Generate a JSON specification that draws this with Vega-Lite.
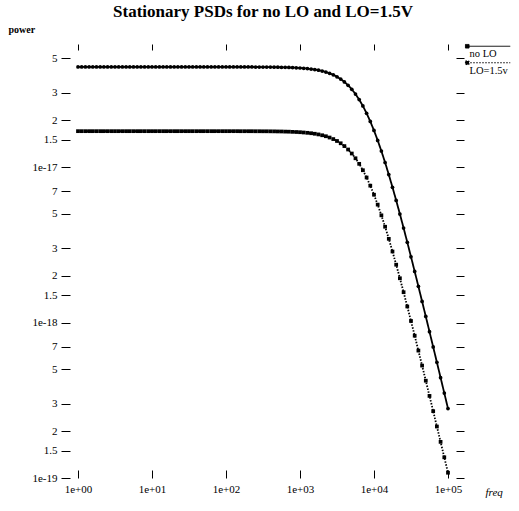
{
  "$schema": "https://vega.github.io/schema/vega-lite/v6.json",
  "width": 386,
  "height": 428,
  "autosize": {"type": "none"},
  "padding": {"left": 70, "top": 50, "right": 63, "bottom": 33},
  "background": "white",
  "title": {
    "text": "Stationary PSDs for no LO and LO=1.5V",
    "font": "Liberation Serif",
    "fontSize": 17,
    "fontWeight": "bold",
    "color": "black",
    "anchor": "middle",
    "baseline": "alphabetic",
    "offset": -10
  },
  "config": {
    "view": {"stroke": null},
    "axis": {
      "domain": false,
      "grid": false,
      "tickColor": "black",
      "tickWidth": 1,
      "labelColor": "black",
      "labelFont": "Liberation Serif",
      "labelFontSize": 11,
      "titleColor": "black",
      "titleFont": "Liberation Serif"
    },
    "legend": {
      "labelFont": "Liberation Serif",
      "labelFontSize": 10.5,
      "labelColor": "black"
    }
  },
  "data": {
    "values": [
      {"freq": 1, "power": 4.4e-17, "series": "no LO"},
      {"freq": 1.122, "power": 4.4e-17, "series": "no LO"},
      {"freq": 1.259, "power": 4.4e-17, "series": "no LO"},
      {"freq": 1.413, "power": 4.4e-17, "series": "no LO"},
      {"freq": 1.585, "power": 4.4e-17, "series": "no LO"},
      {"freq": 1.778, "power": 4.4e-17, "series": "no LO"},
      {"freq": 1.995, "power": 4.4e-17, "series": "no LO"},
      {"freq": 2.239, "power": 4.4e-17, "series": "no LO"},
      {"freq": 2.512, "power": 4.4e-17, "series": "no LO"},
      {"freq": 2.818, "power": 4.4e-17, "series": "no LO"},
      {"freq": 3.162, "power": 4.4e-17, "series": "no LO"},
      {"freq": 3.548, "power": 4.4e-17, "series": "no LO"},
      {"freq": 3.981, "power": 4.4e-17, "series": "no LO"},
      {"freq": 4.467, "power": 4.4e-17, "series": "no LO"},
      {"freq": 5.012, "power": 4.4e-17, "series": "no LO"},
      {"freq": 5.623, "power": 4.4e-17, "series": "no LO"},
      {"freq": 6.31, "power": 4.4e-17, "series": "no LO"},
      {"freq": 7.079, "power": 4.4e-17, "series": "no LO"},
      {"freq": 7.943, "power": 4.4e-17, "series": "no LO"},
      {"freq": 8.913, "power": 4.4e-17, "series": "no LO"},
      {"freq": 10, "power": 4.4e-17, "series": "no LO"},
      {"freq": 11.22, "power": 4.4e-17, "series": "no LO"},
      {"freq": 12.59, "power": 4.4e-17, "series": "no LO"},
      {"freq": 14.13, "power": 4.4e-17, "series": "no LO"},
      {"freq": 15.85, "power": 4.4e-17, "series": "no LO"},
      {"freq": 17.78, "power": 4.4e-17, "series": "no LO"},
      {"freq": 19.95, "power": 4.4e-17, "series": "no LO"},
      {"freq": 22.39, "power": 4.4e-17, "series": "no LO"},
      {"freq": 25.12, "power": 4.4e-17, "series": "no LO"},
      {"freq": 28.18, "power": 4.4e-17, "series": "no LO"},
      {"freq": 31.62, "power": 4.4e-17, "series": "no LO"},
      {"freq": 35.48, "power": 4.4e-17, "series": "no LO"},
      {"freq": 39.81, "power": 4.4e-17, "series": "no LO"},
      {"freq": 44.67, "power": 4.4e-17, "series": "no LO"},
      {"freq": 50.12, "power": 4.4e-17, "series": "no LO"},
      {"freq": 56.23, "power": 4.4e-17, "series": "no LO"},
      {"freq": 63.1, "power": 4.4e-17, "series": "no LO"},
      {"freq": 70.79, "power": 4.4e-17, "series": "no LO"},
      {"freq": 79.43, "power": 4.4e-17, "series": "no LO"},
      {"freq": 89.13, "power": 4.4e-17, "series": "no LO"},
      {"freq": 100, "power": 4.399e-17, "series": "no LO"},
      {"freq": 112.2, "power": 4.399e-17, "series": "no LO"},
      {"freq": 125.9, "power": 4.399e-17, "series": "no LO"},
      {"freq": 141.3, "power": 4.399e-17, "series": "no LO"},
      {"freq": 158.5, "power": 4.398e-17, "series": "no LO"},
      {"freq": 177.8, "power": 4.398e-17, "series": "no LO"},
      {"freq": 199.5, "power": 4.397e-17, "series": "no LO"},
      {"freq": 223.9, "power": 4.397e-17, "series": "no LO"},
      {"freq": 251.2, "power": 4.396e-17, "series": "no LO"},
      {"freq": 281.8, "power": 4.395e-17, "series": "no LO"},
      {"freq": 316.2, "power": 4.393e-17, "series": "no LO"},
      {"freq": 354.8, "power": 4.391e-17, "series": "no LO"},
      {"freq": 398.1, "power": 4.389e-17, "series": "no LO"},
      {"freq": 446.7, "power": 4.386e-17, "series": "no LO"},
      {"freq": 501.2, "power": 4.383e-17, "series": "no LO"},
      {"freq": 562.3, "power": 4.378e-17, "series": "no LO"},
      {"freq": 631, "power": 4.373e-17, "series": "no LO"},
      {"freq": 707.9, "power": 4.366e-17, "series": "no LO"},
      {"freq": 794.3, "power": 4.357e-17, "series": "no LO"},
      {"freq": 891.3, "power": 4.346e-17, "series": "no LO"},
      {"freq": 1000, "power": 4.332e-17, "series": "no LO"},
      {"freq": 1122, "power": 4.315e-17, "series": "no LO"},
      {"freq": 1259, "power": 4.294e-17, "series": "no LO"},
      {"freq": 1413, "power": 4.267e-17, "series": "no LO"},
      {"freq": 1585, "power": 4.234e-17, "series": "no LO"},
      {"freq": 1778, "power": 4.193e-17, "series": "no LO"},
      {"freq": 1995, "power": 4.142e-17, "series": "no LO"},
      {"freq": 2239, "power": 4.08e-17, "series": "no LO"},
      {"freq": 2512, "power": 4.005e-17, "series": "no LO"},
      {"freq": 2818, "power": 3.914e-17, "series": "no LO"},
      {"freq": 3162, "power": 3.805e-17, "series": "no LO"},
      {"freq": 3548, "power": 3.677e-17, "series": "no LO"},
      {"freq": 3981, "power": 3.527e-17, "series": "no LO"},
      {"freq": 4467, "power": 3.354e-17, "series": "no LO"},
      {"freq": 5012, "power": 3.16e-17, "series": "no LO"},
      {"freq": 5623, "power": 2.945e-17, "series": "no LO"},
      {"freq": 6310, "power": 2.713e-17, "series": "no LO"},
      {"freq": 7079, "power": 2.468e-17, "series": "no LO"},
      {"freq": 7943, "power": 2.216e-17, "series": "no LO"},
      {"freq": 8913, "power": 1.963e-17, "series": "no LO"},
      {"freq": 10000, "power": 1.717e-17, "series": "no LO"},
      {"freq": 11220, "power": 1.483e-17, "series": "no LO"},
      {"freq": 12590, "power": 1.266e-17, "series": "no LO"},
      {"freq": 14130, "power": 1.069e-17, "series": "no LO"},
      {"freq": 15850, "power": 8.934e-18, "series": "no LO"},
      {"freq": 17780, "power": 7.406e-18, "series": "no LO"},
      {"freq": 19950, "power": 6.094e-18, "series": "no LO"},
      {"freq": 22390, "power": 4.982e-18, "series": "no LO"},
      {"freq": 25120, "power": 4.052e-18, "series": "no LO"},
      {"freq": 28180, "power": 3.281e-18, "series": "no LO"},
      {"freq": 31620, "power": 2.647e-18, "series": "no LO"},
      {"freq": 35480, "power": 2.129e-18, "series": "no LO"},
      {"freq": 39810, "power": 1.708e-18, "series": "no LO"},
      {"freq": 44670, "power": 1.367e-18, "series": "no LO"},
      {"freq": 50120, "power": 1.093e-18, "series": "no LO"},
      {"freq": 56230, "power": 8.728e-19, "series": "no LO"},
      {"freq": 63100, "power": 6.961e-19, "series": "no LO"},
      {"freq": 70790, "power": 5.548e-19, "series": "no LO"},
      {"freq": 79430, "power": 4.418e-19, "series": "no LO"},
      {"freq": 89130, "power": 3.517e-19, "series": "no LO"},
      {"freq": 100000, "power": 2.798e-19, "series": "no LO"},
      {"freq": 1, "power": 1.7e-17, "series": "LO=1.5v"},
      {"freq": 1.122, "power": 1.7e-17, "series": "LO=1.5v"},
      {"freq": 1.259, "power": 1.7e-17, "series": "LO=1.5v"},
      {"freq": 1.413, "power": 1.7e-17, "series": "LO=1.5v"},
      {"freq": 1.585, "power": 1.7e-17, "series": "LO=1.5v"},
      {"freq": 1.778, "power": 1.7e-17, "series": "LO=1.5v"},
      {"freq": 1.995, "power": 1.7e-17, "series": "LO=1.5v"},
      {"freq": 2.239, "power": 1.7e-17, "series": "LO=1.5v"},
      {"freq": 2.512, "power": 1.7e-17, "series": "LO=1.5v"},
      {"freq": 2.818, "power": 1.7e-17, "series": "LO=1.5v"},
      {"freq": 3.162, "power": 1.7e-17, "series": "LO=1.5v"},
      {"freq": 3.548, "power": 1.7e-17, "series": "LO=1.5v"},
      {"freq": 3.981, "power": 1.7e-17, "series": "LO=1.5v"},
      {"freq": 4.467, "power": 1.7e-17, "series": "LO=1.5v"},
      {"freq": 5.012, "power": 1.7e-17, "series": "LO=1.5v"},
      {"freq": 5.623, "power": 1.7e-17, "series": "LO=1.5v"},
      {"freq": 6.31, "power": 1.7e-17, "series": "LO=1.5v"},
      {"freq": 7.079, "power": 1.7e-17, "series": "LO=1.5v"},
      {"freq": 7.943, "power": 1.7e-17, "series": "LO=1.5v"},
      {"freq": 8.913, "power": 1.7e-17, "series": "LO=1.5v"},
      {"freq": 10, "power": 1.7e-17, "series": "LO=1.5v"},
      {"freq": 11.22, "power": 1.7e-17, "series": "LO=1.5v"},
      {"freq": 12.59, "power": 1.7e-17, "series": "LO=1.5v"},
      {"freq": 14.13, "power": 1.7e-17, "series": "LO=1.5v"},
      {"freq": 15.85, "power": 1.7e-17, "series": "LO=1.5v"},
      {"freq": 17.78, "power": 1.7e-17, "series": "LO=1.5v"},
      {"freq": 19.95, "power": 1.7e-17, "series": "LO=1.5v"},
      {"freq": 22.39, "power": 1.7e-17, "series": "LO=1.5v"},
      {"freq": 25.12, "power": 1.7e-17, "series": "LO=1.5v"},
      {"freq": 28.18, "power": 1.7e-17, "series": "LO=1.5v"},
      {"freq": 31.62, "power": 1.7e-17, "series": "LO=1.5v"},
      {"freq": 35.48, "power": 1.7e-17, "series": "LO=1.5v"},
      {"freq": 39.81, "power": 1.7e-17, "series": "LO=1.5v"},
      {"freq": 44.67, "power": 1.7e-17, "series": "LO=1.5v"},
      {"freq": 50.12, "power": 1.7e-17, "series": "LO=1.5v"},
      {"freq": 56.23, "power": 1.7e-17, "series": "LO=1.5v"},
      {"freq": 63.1, "power": 1.7e-17, "series": "LO=1.5v"},
      {"freq": 70.79, "power": 1.7e-17, "series": "LO=1.5v"},
      {"freq": 79.43, "power": 1.7e-17, "series": "LO=1.5v"},
      {"freq": 89.13, "power": 1.7e-17, "series": "LO=1.5v"},
      {"freq": 100, "power": 1.7e-17, "series": "LO=1.5v"},
      {"freq": 112.2, "power": 1.7e-17, "series": "LO=1.5v"},
      {"freq": 125.9, "power": 1.7e-17, "series": "LO=1.5v"},
      {"freq": 141.3, "power": 1.7e-17, "series": "LO=1.5v"},
      {"freq": 158.5, "power": 1.699e-17, "series": "LO=1.5v"},
      {"freq": 177.8, "power": 1.699e-17, "series": "LO=1.5v"},
      {"freq": 199.5, "power": 1.699e-17, "series": "LO=1.5v"},
      {"freq": 223.9, "power": 1.699e-17, "series": "LO=1.5v"},
      {"freq": 251.2, "power": 1.698e-17, "series": "LO=1.5v"},
      {"freq": 281.8, "power": 1.698e-17, "series": "LO=1.5v"},
      {"freq": 316.2, "power": 1.697e-17, "series": "LO=1.5v"},
      {"freq": 354.8, "power": 1.697e-17, "series": "LO=1.5v"},
      {"freq": 398.1, "power": 1.696e-17, "series": "LO=1.5v"},
      {"freq": 446.7, "power": 1.695e-17, "series": "LO=1.5v"},
      {"freq": 501.2, "power": 1.693e-17, "series": "LO=1.5v"},
      {"freq": 562.3, "power": 1.692e-17, "series": "LO=1.5v"},
      {"freq": 631, "power": 1.689e-17, "series": "LO=1.5v"},
      {"freq": 707.9, "power": 1.687e-17, "series": "LO=1.5v"},
      {"freq": 794.3, "power": 1.683e-17, "series": "LO=1.5v"},
      {"freq": 891.3, "power": 1.679e-17, "series": "LO=1.5v"},
      {"freq": 1000, "power": 1.674e-17, "series": "LO=1.5v"},
      {"freq": 1122, "power": 1.667e-17, "series": "LO=1.5v"},
      {"freq": 1259, "power": 1.659e-17, "series": "LO=1.5v"},
      {"freq": 1413, "power": 1.649e-17, "series": "LO=1.5v"},
      {"freq": 1585, "power": 1.636e-17, "series": "LO=1.5v"},
      {"freq": 1778, "power": 1.62e-17, "series": "LO=1.5v"},
      {"freq": 1995, "power": 1.6e-17, "series": "LO=1.5v"},
      {"freq": 2239, "power": 1.577e-17, "series": "LO=1.5v"},
      {"freq": 2512, "power": 1.547e-17, "series": "LO=1.5v"},
      {"freq": 2818, "power": 1.512e-17, "series": "LO=1.5v"},
      {"freq": 3162, "power": 1.47e-17, "series": "LO=1.5v"},
      {"freq": 3548, "power": 1.421e-17, "series": "LO=1.5v"},
      {"freq": 3981, "power": 1.363e-17, "series": "LO=1.5v"},
      {"freq": 4467, "power": 1.296e-17, "series": "LO=1.5v"},
      {"freq": 5012, "power": 1.221e-17, "series": "LO=1.5v"},
      {"freq": 5623, "power": 1.138e-17, "series": "LO=1.5v"},
      {"freq": 6310, "power": 1.048e-17, "series": "LO=1.5v"},
      {"freq": 7079, "power": 9.534e-18, "series": "LO=1.5v"},
      {"freq": 7943, "power": 8.56e-18, "series": "LO=1.5v"},
      {"freq": 8913, "power": 7.585e-18, "series": "LO=1.5v"},
      {"freq": 10000, "power": 6.634e-18, "series": "LO=1.5v"},
      {"freq": 11220, "power": 5.73e-18, "series": "LO=1.5v"},
      {"freq": 12590, "power": 4.89e-18, "series": "LO=1.5v"},
      {"freq": 14130, "power": 4.129e-18, "series": "LO=1.5v"},
      {"freq": 15850, "power": 3.452e-18, "series": "LO=1.5v"},
      {"freq": 17780, "power": 2.861e-18, "series": "LO=1.5v"},
      {"freq": 19950, "power": 2.354e-18, "series": "LO=1.5v"},
      {"freq": 22390, "power": 1.925e-18, "series": "LO=1.5v"},
      {"freq": 25120, "power": 1.566e-18, "series": "LO=1.5v"},
      {"freq": 28180, "power": 1.268e-18, "series": "LO=1.5v"},
      {"freq": 31620, "power": 1.023e-18, "series": "LO=1.5v"},
      {"freq": 35480, "power": 8.225e-19, "series": "LO=1.5v"},
      {"freq": 39810, "power": 6.598e-19, "series": "LO=1.5v"},
      {"freq": 44670, "power": 5.283e-19, "series": "LO=1.5v"},
      {"freq": 50120, "power": 4.224e-19, "series": "LO=1.5v"},
      {"freq": 56230, "power": 3.372e-19, "series": "LO=1.5v"},
      {"freq": 63100, "power": 2.69e-19, "series": "LO=1.5v"},
      {"freq": 70790, "power": 2.143e-19, "series": "LO=1.5v"},
      {"freq": 79430, "power": 1.707e-19, "series": "LO=1.5v"},
      {"freq": 89130, "power": 1.359e-19, "series": "LO=1.5v"},
      {"freq": 100000, "power": 1.081e-19, "series": "LO=1.5v"}
    ]
  },
  "resolve": {"axis": {"x": "independent", "y": "independent"}},
  "layer": [
    {
      "mark": {"type": "line", "color": "black", "strokeWidth": 1.8},
      "encoding": {
        "x": {
          "field": "freq", "type": "quantitative",
          "scale": {"type": "log", "domain": [0.78, 128300], "nice": false},
          "axis": {
            "orient": "bottom",
            "values": [1, 10, 100, 1000, 10000, 100000],
            "labelExpr": "'1e+0' + round(log(datum.value) / LN10)",
            "tickSize": 8,
            "offset": -8,
            "labelPadding": 5,
            "labelFlush": false,
            "title": "freq",
            "titleFontStyle": "italic",
            "titleFontWeight": "normal",
            "titleFontSize": 11,
            "titleAlign": "left",
            "titleBaseline": "alphabetic",
            "titleX": 415,
            "titleY": 25
          }
        },
        "y": {
          "field": "power", "type": "quantitative",
          "scale": {"type": "log", "domain": [1e-19, 5.655e-17], "nice": false},
          "axis": {
            "orient": "left",
            "values": [1e-19, 1.5e-19, 2e-19, 3e-19, 5e-19, 7e-19, 1e-18, 1.5e-18, 2e-18, 3e-18, 5e-18, 7e-18, 1e-17, 1.5e-17, 2e-17, 3e-17, 5e-17],
            "labelExpr": "round(datum.value / pow(10, floor(log(datum.value) / LN10 + 1e-6)) * 10) / 10 == 1 ? '1e' + floor(log(datum.value) / LN10 + 1e-6) : '' + round(datum.value / pow(10, floor(log(datum.value) / LN10 + 1e-6)) * 10) / 10",
            "tickSize": 9,
            "labelPadding": 4,
            "labelFlush": false,
            "labelOverlap": false,
            "title": "power",
            "titleAngle": 0,
            "titleFontSize": 10,
            "titleFontWeight": "bold",
            "titleAlign": "left",
            "titleBaseline": "alphabetic",
            "titleX": -62,
            "titleY": -18
          }
        },
        "strokeDash": {
          "field": "series", "type": "nominal",
          "scale": {"domain": ["no LO", "LO=1.5v"], "range": [[1, 0], [1.5, 1.5]]},
          "legend": {
            "title": null,
            "orient": "none",
            "legendX": 392,
            "legendY": -1,
            "padding": 0,
            "symbolType": "M0,-4H21.5M-0.9,-4.9h1.8v1.8h-1.8z",
            "symbolSize": 16,
            "symbolStrokeColor": "black",
            "symbolFillColor": "black",
            "symbolStrokeWidth": 1,
            "labelOffset": -3,
            "rowPadding": -1.5
          }
        }
      }
    },
    {
      "transform": [{"filter": "datum.series == 'no LO'"}],
      "mark": {"type": "point", "filled": true, "color": "black", "size": 14, "opacity": 1, "shape": "circle"},
      "encoding": {
        "x": {
          "field": "freq", "type": "quantitative",
          "scale": {"type": "log", "domain": [0.78, 128300], "nice": false},
          "axis": {
            "orient": "top",
            "values": [1, 10, 100, 1000, 10000, 100000],
            "labels": false,
            "tickSize": 6,
            "title": null
          }
        },
        "y": {
          "field": "power", "type": "quantitative",
          "scale": {"type": "log", "domain": [1e-19, 5.655e-17], "nice": false},
          "axis": {
            "orient": "right",
            "values": [1e-19, 1.5e-19, 2e-19, 3e-19, 5e-19, 7e-19, 1e-18, 1.5e-18, 2e-18, 3e-18, 5e-18, 7e-18, 1e-17, 1.5e-17, 2e-17, 3e-17, 5e-17],
            "labels": false,
            "tickSize": 8,
            "title": null
          }
        }
      }
    },
    {
      "transform": [{"filter": "datum.series == 'LO=1.5v'"}],
      "mark": {"type": "point", "filled": true, "color": "black", "size": 14, "opacity": 1, "shape": "square"},
      "encoding": {
        "x": {
          "field": "freq", "type": "quantitative",
          "scale": {"type": "log", "domain": [0.78, 128300], "nice": false},
          "axis": null
        },
        "y": {
          "field": "power", "type": "quantitative",
          "scale": {"type": "log", "domain": [1e-19, 5.655e-17], "nice": false},
          "axis": null
        }
      }
    }
  ]
}
